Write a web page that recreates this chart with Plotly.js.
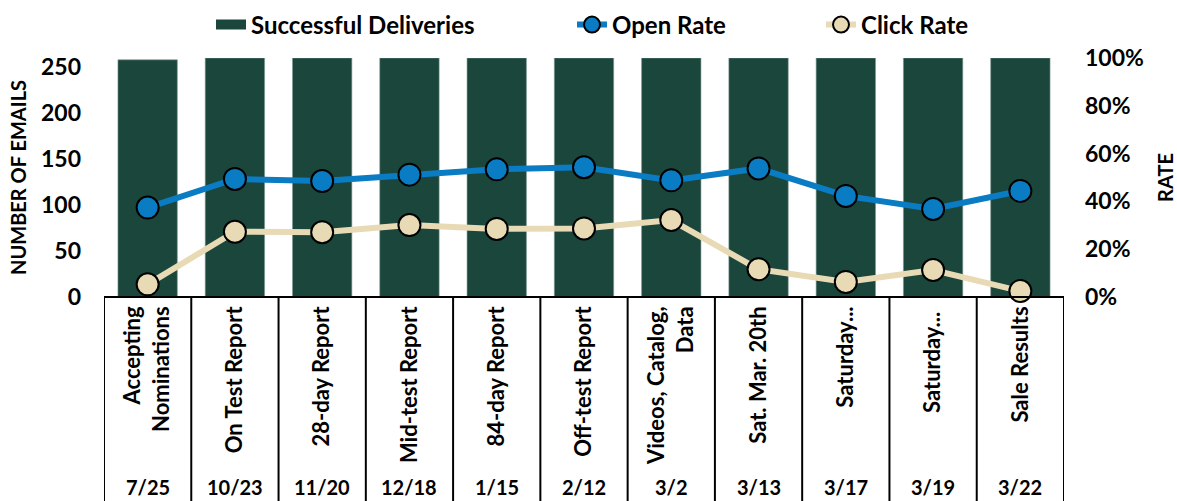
<!DOCTYPE html>
<html>
<head>
<meta charset="utf-8">
<script src="https://cdn.plot.ly/plotly-3.0.1.min.js"></script>
<style>html,body{margin:0;padding:0;background:#fff;}#chart{width:1177px;height:501px;}</style>
</head>
<body>
<div id="chart"></div>
<script>
// ---- data ----
const categories = ["Accepting<br>Nominations", "On Test Report", "28-day Report", "Mid-test Report", "84-day Report", "Off-test Report", "Videos, Catalog,<br>Data", "Sat. Mar. 20th", "Saturday...", "Saturday... ", "Sale Results"];
const dates = ["7/25", "10/23", "11/20", "12/18", "1/15", "2/12", "3/2", "3/13", "3/17", "3/19", "3/22"];
const deliveries = [258, 260, 260, 260, 260, 260, 260, 260, 260, 260, 260];
const openRate = [0.374, 0.494, 0.485, 0.512, 0.534, 0.543, 0.488, 0.538, 0.423, 0.368, 0.444];
const clickRate = [0.053, 0.273, 0.271, 0.301, 0.285, 0.287, 0.322, 0.116, 0.063, 0.113, 0.025];
const leftTicks = [0, 50, 100, 150, 200, 250];
const rightTicks = [0, 0.2, 0.4, 0.6, 0.8, 1.0];

const FONT = "Lato, 'DejaVu Sans', sans-serif";
const W = 700;
const idx = categories.map((_, i) => i);
const GREEN = "#1b463c", BLUE = "#0a7cc4", BEIGE = "#e8dab4";

const traces = [
  {
    type: "bar", name: "Successful Deliveries", x: idx, y: deliveries,
    marker: {color: GREEN, line: {color: "#7a9690", width: 0.6}},
    yaxis: "y", showlegend: false, legendgroup: "del"
  },
  {
    // legend entry for the bars, drawn as a thick swatch
    type: "scatter", mode: "lines", name: "Successful Deliveries", x: [null], y: [null],
    line: {color: GREEN, width: 11}, legend: "legend", legendgroup: "del", hoverinfo: "skip"
  },
  {
    type: "scatter", mode: "lines+markers", name: "Open Rate", x: idx, y: openRate,
    line: {color: BLUE, width: 6},
    marker: {color: BLUE, size: 22, line: {color: "#000", width: 2}},
    yaxis: "y2", cliponaxis: false, legend: "legend2"
  },
  {
    type: "scatter", mode: "lines+markers", name: "Click Rate", x: idx, y: clickRate,
    line: {color: BEIGE, width: 6},
    marker: {color: BEIGE, size: 22, line: {color: "#000", width: 2}},
    yaxis: "y2", cliponaxis: false, legend: "legend3"
  }
];

const shapes = [];
shapes.push({type: "line", xref: "x", yref: "paper", x0: -0.5, x1: categories.length - 0.5, y0: 0, y1: 0, line: {color: "#000", width: 2}});
for (let i = 0; i <= categories.length; i++) {
  shapes.push({type: "line", xref: "x", yref: "paper", x0: i - 0.5, x1: i - 0.5, y0: 0, y1: -1.0, line: {color: "#000", width: 2}});
}

const annotations = dates.map((d, i) => ({
  text: d, x: i, xref: "x", y: -0.795, yref: "paper", showarrow: false,
  xanchor: "center", yanchor: "middle", font: {family: FONT, size: 20, color: "#000", weight: W}
}));

const legFont = {family: FONT, size: 24, color: "#000", weight: W};
const px = p => (p - 104) / 960;
const legY = 1.138;

const layout = {
  width: 1177, height: 501,
  margin: {l: 104, r: 113, t: 58, b: 204, autoexpand: false},
  paper_bgcolor: "#fff", plot_bgcolor: "#fff",
  font: {family: FONT, size: 20, color: "#000", weight: W},
  bargap: 0.32,
  showlegend: true,
  legend: {orientation: "h", x: px(256 - 45), xanchor: "left", y: legY, yanchor: "middle", font: legFont, bgcolor: "rgba(0,0,0,0)"},
  legend2: {orientation: "h", x: px(617 - 45), xanchor: "left", y: legY, yanchor: "middle", font: legFont, bgcolor: "rgba(0,0,0,0)"},
  legend3: {orientation: "h", x: px(866 - 45), xanchor: "left", y: legY, yanchor: "middle", font: legFont, bgcolor: "rgba(0,0,0,0)"},
  xaxis: {
    type: "linear", range: [-0.5, categories.length - 0.5],
    tickmode: "array", tickvals: idx, ticktext: categories, tickangle: -90,
    showgrid: false, zeroline: false, showline: false, ticks: "",
    tickfont: {family: FONT, size: 22, color: "#000", weight: W},
    ticklabelstandoff: 4
  },
  yaxis: {
    range: [0, 260], tickmode: "array", tickvals: leftTicks,
    showgrid: false, zeroline: false, showline: false, ticks: "",
    tickfont: {family: FONT, size: 23, color: "#000", weight: W},
    ticklabelstandoff: 22,
    title: {text: "NUMBER OF EMAILS", standoff: 8, font: {family: FONT, size: 20, color: "#000", weight: W}}
  },
  yaxis2: {
    overlaying: "y", side: "right", range: [0, 1], tickmode: "array", tickvals: rightTicks,
    tickformat: ".0%", showgrid: false, zeroline: false, showline: false, ticks: "",
    tickfont: {family: FONT, size: 23, color: "#000", weight: W},
    ticklabelstandoff: 20,
    title: {text: "RATE", standoff: 16, font: {family: FONT, size: 20, color: "#000", weight: W}}
  },
  shapes: shapes,
  annotations: annotations
};

Plotly.newPlot("chart", traces, layout, {displayModeBar: false, staticPlot: true});
</script>
</body>
</html>
